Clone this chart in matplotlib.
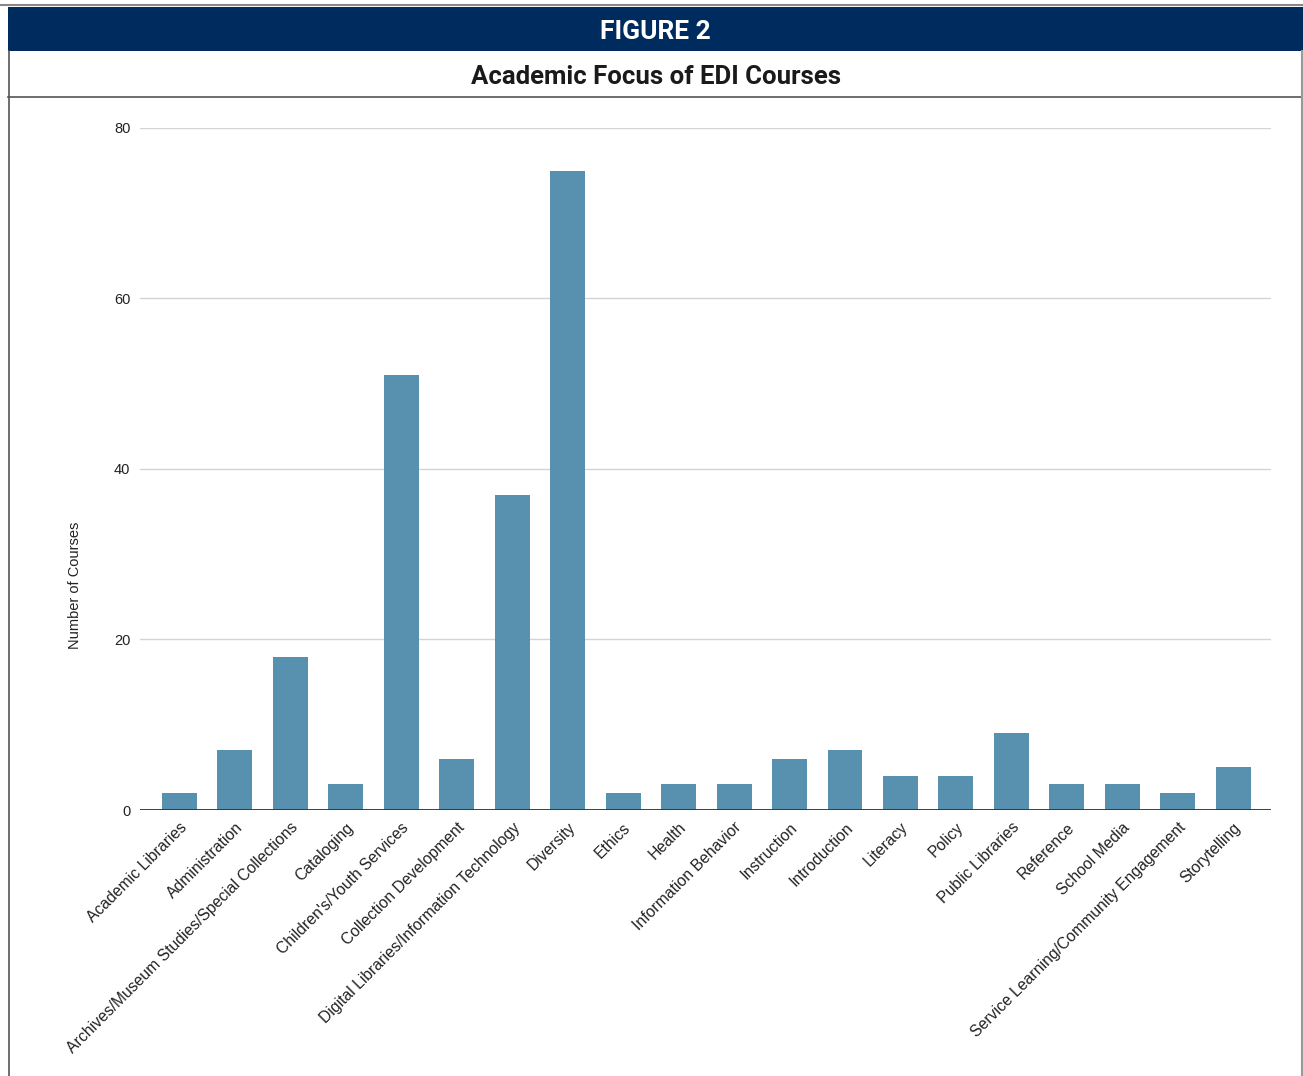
import matplotlib.pyplot as plt
from matplotlib.patches import Rectangle
from matplotlib.lines import Line2D

# data
categories = ['Academic Libraries', 'Administration', 'Archives/Museum Studies/Special Collections',
              'Cataloging', "Children's/Youth Services", 'Collection Development',
              'Digital Libraries/Information Technology', 'Diversity', 'Ethics', 'Health',
              'Information Behavior', 'Instruction', 'Introduction', 'Literacy', 'Policy',
              'Public Libraries', 'Reference', 'School Media',
              'Service Learning/Community Engagement', 'Storytelling']
courses = [2, 7, 18, 3, 51, 6, 37, 75, 2, 3, 3, 6, 7, 4, 4, 9, 3, 3, 2, 5]
y_ticks = [0, 20, 40, 60, 80]

W, H = 1303, 1076
fig = plt.figure(figsize=(W / 100, H / 100), dpi=100)

def fx(px):
    return px / W

def fy(py):
    return 1 - py / H

#header band and frame
fig.add_artist(Rectangle((fx(8), fy(51)), 1 - fx(8), fy(7) - fy(51), transform=fig.transFigure,
                         facecolor='#002b5f', edgecolor='none'))
fig.add_artist(Line2D([0, 1], [fy(5), fy(5)], transform=fig.transFigure, color='#888888', lw=1.5))
fig.add_artist(Line2D([fx(8), 1], [fy(97), fy(97)], transform=fig.transFigure, color='#555555', lw=1.2))
fig.add_artist(Line2D([fx(8.5), fx(8.5)], [0, fy(51)], transform=fig.transFigure, color='#555555', lw=1.2))
fig.add_artist(Line2D([fx(1301.5), fx(1301.5)], [0, fy(51)], transform=fig.transFigure, color='#999999', lw=1.5))

fig.text(fx(655), fy(32), 'FIGURE 2', ha='center', va='center', color='white',
         fontsize=19, fontweight='bold', family='Roboto')
fig.text(fx(656), fy(77), 'Academic Focus of EDI Courses', ha='center', va='center', color='#1a1a1a',
         fontsize=18.5, fontweight='bold', family='Roboto')

#chart area
ax = fig.add_axes([fx(140), fy(810), fx(1271) - fx(140), fy(128) - fy(810)])
x = range(len(categories))
ax.bar(x, courses, width=0.63, color='#5891b0', zorder=3)

ax.set_ylim(0, 80)
ax.set_xlim(-0.71, len(categories) - 1 + 0.68)
ax.set_yticks(y_ticks)
ax.set_yticklabels([str(v) for v in y_ticks], family='Liberation Sans', fontsize=10.5, color='#222222')
ax.yaxis.grid(True, color='#d4d4d4', lw=1, zorder=0)
ax.axhline(0, color='#333333', lw=1.3, zorder=4)
ax.set_xticks(list(x))
ax.set_xticklabels(categories, rotation=45, ha='right', rotation_mode='anchor',
                   family='Liberation Sans', fontsize=11.3, color='#222222')
ax.tick_params(axis='both', length=0)
ax.tick_params(axis='x', pad=7)
ax.tick_params(axis='y', pad=7)
for s in ax.spines.values():
    s.set_visible(False)

fig.text(fx(75), fy(585), 'Number of Courses', rotation=90, ha='center', va='center',
         family='Liberation Sans', fontsize=10.5, color='#222222')

plt.savefig('out.png', dpi=100)
